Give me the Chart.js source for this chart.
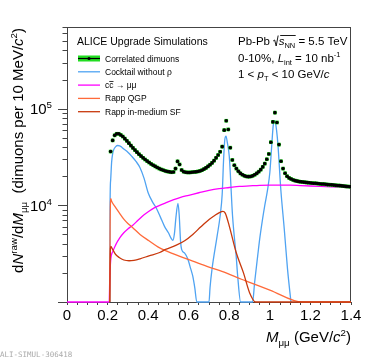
<!DOCTYPE html>
<html>
<head>
<meta charset="utf-8">
<script src="https://cdn.jsdelivr.net/npm/chart.js@4.4.1/dist/chart.umd.min.js"></script>
<style>
  html, body { margin: 0; padding: 0; background: #fff; }
  #wrap { width: 374px; height: 359px; position: relative; }
</style>
</head>
<body>
<div id="wrap"><canvas id="chart" width="374" height="359"></canvas></div>
<script>
// correlated dimuons, 10 MeV bins (bin centres in GeV/c^2)
const dimuonMass = [
  0.215, 0.225, 0.235, 0.245, 0.255, 0.265, 0.275, 0.285, 0.295, 0.305,
  0.315, 0.325, 0.335, 0.345, 0.355, 0.365, 0.375, 0.385, 0.395, 0.405,
  0.415, 0.425, 0.435, 0.445, 0.455, 0.465, 0.475, 0.485, 0.495, 0.505,
  0.515, 0.525, 0.535, 0.545, 0.555, 0.565, 0.575, 0.585, 0.595, 0.605,
  0.615, 0.625, 0.635, 0.645, 0.655, 0.665, 0.675, 0.685, 0.695, 0.705,
  0.715, 0.725, 0.735, 0.745, 0.755, 0.765, 0.775, 0.785, 0.795, 0.805,
  0.815, 0.825, 0.835, 0.845, 0.855, 0.865, 0.875, 0.885, 0.895, 0.905,
  0.915, 0.925, 0.935, 0.945, 0.955, 0.965, 0.975, 0.985, 0.995, 1.005,
  1.015, 1.025, 1.035, 1.045, 1.055, 1.065, 1.075, 1.085, 1.095, 1.105,
  1.115, 1.125, 1.135, 1.145, 1.155, 1.165, 1.175, 1.185, 1.195, 1.205,
  1.215, 1.225, 1.235, 1.245, 1.255, 1.265, 1.275, 1.285, 1.295, 1.305,
  1.315, 1.325, 1.335, 1.345, 1.355, 1.365, 1.375, 1.385, 1.395
];
const dimuonCounts = [
  36000, 47000, 53000, 55000, 55000, 53500, 51500, 49000, 46500, 44000,
  41500, 39300, 37300, 35500, 33800, 32300, 31000, 29800, 28700, 27700,
  26800, 26000, 25300, 24600, 24000, 23500, 23100, 22700, 22400, 22200,
  22000, 22100, 24000, 28500, 26500, 23200, 22300, 22000, 21900, 21900,
  22000, 22100, 22200, 22400, 22700, 23100, 23700, 24400, 25300, 26300,
  27500, 29000, 31000, 33200, 35800, 40500, 60000, 75000, 61000, 39500,
  29500, 26000, 24000, 22500, 21400, 20700, 20200, 19900, 19800, 19900,
  20200, 20700, 21400, 22300, 23400, 25000, 27000, 30000, 34000, 45000,
  73000, 91000, 72000, 42500, 28600, 24000, 21500, 20000, 19200, 18700,
  18300, 18000, 17800, 17600, 17500, 17400, 17300, 17200, 17100, 17000,
  16950, 16900, 16800, 16700, 16650, 16600, 16500, 16400, 16350, 16300,
  16200, 16100, 16050, 16000, 15900, 15800, 15700, 15650, 15600
];

// cocktail without rho
const cocktailMass = [0.2115, 0.212, 0.215, 0.22, 0.225, 0.23, 0.24, 0.25, 0.26, 0.27, 0.28, 0.30, 0.32, 0.34, 0.36, 0.38, 0.40, 0.42, 0.44, 0.46, 0.48, 0.50, 0.515, 0.522, 0.53, 0.537, 0.547, 0.553, 0.56, 0.565, 0.58, 0.595, 0.61, 0.62, 0.63, 0.64, 0.70, 0.705, 0.715, 0.74, 0.755, 0.765, 0.772, 0.778, 0.784, 0.79, 0.80, 0.816, 0.835, 0.841, 0.856, 0.915, 0.925, 0.94, 0.95, 0.964, 0.975, 0.989, 1.0, 1.008, 1.017, 1.025, 1.033, 1.04, 1.054, 1.071, 1.087, 1.104];
const cocktailCounts = [1000, 8000, 18000, 28000, 34000, 37500, 40500, 41600, 41300, 40000, 38300, 35500, 32000, 28500, 24500, 19000, 13500, 11000, 9400, 7600, 6100, 5200, 4500, 4350, 5200, 7500, 10500, 8000, 4200, 3500, 3200, 2800, 2200, 1850, 1400, 1000, 1000, 1400, 2200, 4800, 7800, 13000, 30000, 48000, 52000, 45000, 32000, 7800, 2800, 1900, 1000, 1000, 1600, 3000, 4500, 7200, 10000, 14600, 22000, 38000, 68000, 75000, 60000, 42000, 14600, 5700, 2200, 1000];

// open charm c cbar -> mu mu
const charmMass = [0, 0.208, 0.211, 0.216, 0.225, 0.24, 0.26, 0.28, 0.30, 0.323, 0.35, 0.38, 0.404, 0.43, 0.457, 0.486, 0.52, 0.56, 0.60, 0.65, 0.70, 0.75, 0.80, 0.85, 0.90, 0.95, 1.00, 1.05, 1.10, 1.15, 1.20, 1.25, 1.30, 1.35, 1.40];
const charmCounts = [1000, 1000, 1800, 2800, 3300, 3900, 4600, 5200, 5700, 6200, 7000, 8000, 8700, 9400, 10000, 10600, 11300, 12100, 12700, 13500, 14300, 14900, 15300, 15700, 15900, 16100, 16200, 16200, 16150, 16000, 15850, 15700, 15550, 15400, 15250];

// Rapp QGP
const qgpMass = [0.211, 0.2125, 0.216, 0.22, 0.235, 0.257, 0.28, 0.30, 0.323, 0.36, 0.404, 0.45, 0.486, 0.55, 0.62, 0.70, 0.784, 0.86, 0.90, 1.00, 1.16, 1.40];
const qgpCounts = [1000, 6000, 11700, 11000, 9800, 8400, 7200, 6500, 5900, 5000, 4300, 3700, 3400, 3000, 2650, 2300, 2000, 1720, 1600, 1330, 1000, 1000];

// Rapp in-medium spectral function
const sfMass = [0.211, 0.2125, 0.216, 0.225, 0.24, 0.257, 0.28, 0.306, 0.33, 0.36, 0.404, 0.457, 0.486, 0.539, 0.58, 0.62, 0.66, 0.702, 0.73, 0.751, 0.768, 0.78, 0.80, 0.834, 0.87, 0.90, 0.93, 1.40];
const sfCounts = [1000, 2500, 3750, 3500, 3100, 2890, 2720, 2670, 2700, 2800, 3000, 3250, 3500, 3870, 4300, 5000, 6000, 7170, 7900, 8400, 8650, 8300, 6100, 3250, 2000, 1250, 1000, 1000];

const yMin = 1000;
const yMax = 700000;
const yTickLabels = [10000, 100000];
const xLabelStep = 0.2;

const FONT = '"Liberation Sans", Arial, sans-serif';
function font(size, italic) {
  return (italic ? 'italic ' : '') + size + 'px ' + FONT;
}
function pts(xs, ys) {
  return xs.map((x, i) => ({ x: x, y: ys[i] }));
}

// draws text made of parts {t, i (italic), s ('sub'|'sup'), o (overline)}
function richWidth(ctx, parts, size) {
  let w = 0;
  parts.forEach(p => {
    const sz = p.s ? size * 0.65 : size;
    ctx.font = font(sz, p.i);
    w += ctx.measureText(p.t).width;
  });
  return w;
}
function drawRich(ctx, x, y, parts, size, align) {
  let cx = x;
  if (align === 'right') cx = x - richWidth(ctx, parts, size);
  ctx.textBaseline = 'alphabetic';
  ctx.textAlign = 'left';
  parts.forEach(p => {
    const sz = p.s ? size * 0.65 : size;
    ctx.font = font(sz, p.i);
    let dy = 0;
    if (p.s === 'sub') dy = size * 0.28;
    if (p.s === 'sup') dy = -size * 0.42;
    ctx.fillText(p.t, cx, y + dy);
    const w = ctx.measureText(p.t).width;
    if (p.o) {
      ctx.beginPath();
      ctx.lineWidth = 0.8;
      ctx.moveTo(cx, y - size * 0.78);
      ctx.lineTo(cx + w, y - size * 0.78);
      ctx.stroke();
    }
    cx += w;
  });
  return cx;
}

const colors = {
  dots: '#000000',
  band: '#22dd22',
  cocktail: '#4fa3f2',
  charm: '#ff00ff',
  qgp: '#ff6a3a',
  sf: '#c8380c'
};

const legendItems = [
  { type: 'data', parts: [{ t: 'Correlated dimuons' }] },
  { type: 'line', color: colors.cocktail, parts: [{ t: 'Cocktail without \u03c1' }] },
  { type: 'line', color: colors.charm, parts: [{ t: 'c' }, { t: 'c', o: true }, { t: ' \u2192 \u03bc\u03bc' }] },
  { type: 'line', color: colors.qgp, parts: [{ t: 'Rapp QGP' }] },
  { type: 'line', color: colors.sf, parts: [{ t: 'Rapp in-medium SF' }] }
];

const frame = {
  id: 'frame',
  beforeDatasetsDraw(chart) {
    const ctx = chart.ctx;
    const a = chart.chartArea;
    const ys = chart.scales.y;
    ctx.save();
    ctx.strokeStyle = '#444';
    ctx.lineWidth = 1;
    ctx.strokeRect(a.left + 0.5, a.top + 0.5, a.right - a.left - 1, a.bottom - a.top);

    // y ticks (outside, left)
    for (let e = 3; e <= 5; e++) {
      for (let m = 1; m <= 9; m++) {
        const v = m * Math.pow(10, e);
        if (v < yMin || v > yMax) continue;
        const py = Math.round(ys.getPixelForValue(v)) + 0.5;
        const len = m === 1 ? 9 : 4.5;
        ctx.beginPath();
        ctx.moveTo(a.left - len, py);
        ctx.lineTo(a.left, py);
        ctx.stroke();
      }
    }
    ctx.restore();
  }
};

const decorations = {
  id: 'decorations',
  afterDraw(chart) {
    const ctx = chart.ctx;
    const a = chart.chartArea;
    const ys = chart.scales.y;
    ctx.save();

    // y tick labels 10^n
    ctx.fillStyle = '#000';
    yTickLabels.forEach(v => {
      const py = ys.getPixelForValue(v);
      const ex = String(Math.round(Math.log10(v)));
      drawRich(ctx, 52, py + 5.5, [{ t: '10' }, { t: ex, s: 'sup' }], 15, 'right');
    });

    // axis titles
    drawRich(ctx, a.right, 342, [
      { t: 'M', i: true }, { t: '\u03bc\u03bc', s: 'sub' }, { t: ' (GeV/' }, { t: 'c', i: true }, { t: '2', s: 'sup' }, { t: ')' }
    ], 15, 'right');

    ctx.save();
    ctx.translate(23, a.top + 1);
    ctx.rotate(-Math.PI / 2);
    drawRich(ctx, 0, 0, [
      { t: 'd' }, { t: 'N', i: true }, { t: 'raw', s: 'sup' }, { t: '/d' }, { t: 'M', i: true }, { t: '\u03bc\u03bc', s: 'sub' },
      { t: '  (dimuons per 10 MeV/' }, { t: 'c', i: true }, { t: '2', s: 'sup' }, { t: ')' }
    ], 15, 'right');
    ctx.restore();

    // legend
    ctx.font = font(10.5);
    ctx.fillText('ALICE Upgrade Simulations', 77, 45);
    legendItems.forEach((it, k) => {
      const cy = 58.5 + k * 13.3;
      if (it.type === 'data') {
        ctx.fillStyle = colors.band;
        ctx.fillRect(78, cy - 3, 22, 6);
        ctx.strokeStyle = '#000';
        ctx.lineWidth = 1.2;
        ctx.beginPath(); ctx.moveTo(78, cy); ctx.lineTo(100, cy); ctx.stroke();
        ctx.fillStyle = '#000';
        ctx.beginPath(); ctx.arc(89, cy, 1.6, 0, Math.PI * 2); ctx.fill();
      } else {
        ctx.strokeStyle = it.color;
        ctx.lineWidth = 1.3;
        ctx.beginPath(); ctx.moveTo(78, cy); ctx.lineTo(100, cy); ctx.stroke();
      }
      ctx.fillStyle = '#000';
      ctx.strokeStyle = '#000';
      drawRich(ctx, 105, cy + 3, it.parts, 8.5);
    });

    // collision system text
    ctx.fillStyle = '#000';
    ctx.strokeStyle = '#000';
    let x = drawRich(ctx, 238, 45, [{ t: 'Pb-Pb ' }], 11.5);
    // radical sign
    ctx.lineWidth = 0.9;
    ctx.beginPath();
    ctx.moveTo(x, 41);
    ctx.lineTo(x + 1.5, 40);
    ctx.lineTo(x + 3, 46);
    ctx.lineTo(x + 5, 35.5);
    ctx.stroke();
    const sx = x + 5.5;
    x = drawRich(ctx, sx, 45, [{ t: 's', i: true }, { t: 'NN', s: 'sub' }], 11.5);
    ctx.beginPath(); ctx.moveTo(x - 15, 35.5); ctx.lineTo(x + 0.5, 35.5); ctx.stroke();
    drawRich(ctx, x, 45, [{ t: ' = 5.5 TeV' }], 11.5);
    drawRich(ctx, 238, 62, [{ t: '0-10%, ' }, { t: 'L', i: true }, { t: 'int', s: 'sub' }, { t: ' = 10 nb' }, { t: '-1', s: 'sup' }], 11.5);
    drawRich(ctx, 238, 78, [{ t: '1 < ' }, { t: 'p', i: true }, { t: 'T', s: 'sub' }, { t: ' < 10 GeV/' }, { t: 'c', i: true }], 11.5);

    // figure id
    ctx.fillStyle = '#aaa';
    ctx.font = '7.5px "DejaVu Sans Mono", monospace';
    ctx.fillText('ALI-SIMUL-306418', 0, 357);

    ctx.restore();
  }
};

const lineOpts = { pointRadius: 0, borderWidth: 1.3, fill: false, cubicInterpolationMode: 'monotone', clip: 3 };

new Chart(document.getElementById('chart').getContext('2d'), {
  type: 'line',
  data: {
    datasets: [
      { label: 'Correlated dimuons', data: pts(dimuonMass, dimuonCounts), showLine: false,
        pointRadius: 1.8, pointBackgroundColor: colors.dots, pointBorderWidth: 0, order: 0 },
      { label: 'band', data: pts(dimuonMass, dimuonCounts), showLine: false, pointStyle: 'rect',
        pointRadius: 2.6, pointBackgroundColor: colors.band, pointBorderWidth: 0, order: 1 },
      Object.assign({ label: 'Rapp in-medium SF', data: pts(sfMass, sfCounts), borderColor: colors.sf, order: 2 }, lineOpts),
      Object.assign({ label: 'Rapp QGP', data: pts(qgpMass, qgpCounts), borderColor: colors.qgp, order: 3 }, lineOpts),
      Object.assign({ label: 'cc -> mumu', data: pts(charmMass, charmCounts), borderColor: colors.charm, order: 4 }, lineOpts),
      Object.assign({ label: 'Cocktail without rho', data: pts(cocktailMass, cocktailCounts), borderColor: colors.cocktail, order: 5 }, lineOpts)
    ]
  },
  options: {
    responsive: false,
    animation: false,
    devicePixelRatio: 1,
    layout: { padding: { left: 0, right: 23, top: 27, bottom: 0 } },
    plugins: { legend: { display: false }, tooltip: { enabled: false } },
    scales: {
      x: {
        type: 'linear', min: 0, max: 1.4,
        grid: { display: true, drawOnChartArea: false, drawTicks: true, tickLength: 3, color: '#444' },
        border: { display: false },
        ticks: {
          stepSize: 0.05, autoSkip: false, maxRotation: 0, padding: 2, color: '#000',
          font: { family: FONT, size: 15 },
          callback: v => {
            const r = v / xLabelStep;
            return Math.abs(r - Math.round(r)) < 1e-6 ? String(+v.toFixed(1)) : '';
          }
        },
        afterFit: s => { s.height = 57; }
      },
      y: {
        type: 'logarithmic', min: yMin, max: yMax,
        grid: { display: false },
        border: { display: false },
        ticks: { display: false },
        afterFit: s => { s.width = 67; }
      }
    }
  },
  plugins: [frame, decorations]
});
</script>
</body>
</html>
